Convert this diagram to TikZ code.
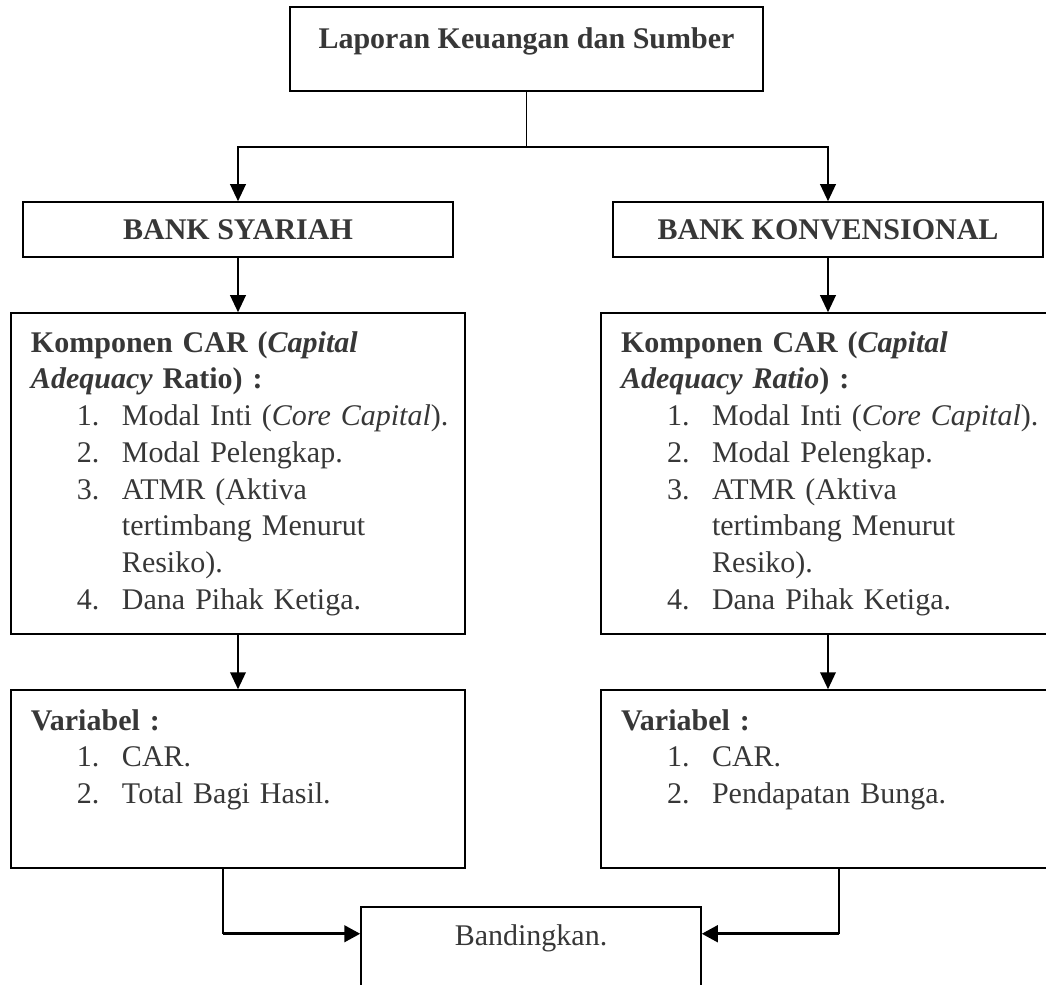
\documentclass[tikz,border=0pt]{standalone}
\usepackage{fontspec}
\setmainfont{Liberation Serif}
\usepackage{tikz}
\usetikzlibrary{arrows.meta,positioning,calc}
\definecolor{ink}{RGB}{55,55,55}
\newcommand{\bodyfont}{\fontsize{12}{14.7}\selectfont}
\newcommand{\numline}[2]{\mbox{\hspace*{18.4pt}\makebox[18pt][l]{#1}#2}}
\newcommand{\wrapline}[1]{\mbox{\hspace*{36.4pt}#1}}

\begin{document}
\begin{tikzpicture}[x=0.4pt,y=-0.4pt,
  every node/.style={font=\bodyfont,text=ink},
  box/.style={draw=black,line width=0.6pt},
  titlebox/.style={box,font=\bodyfont\bfseries,minimum width=172pt,minimum height=22pt},
  listbox/.style={box,align=left,text width=165.6pt,inner xsep=8pt,minimum width=181.6pt},
  link/.style={line width=0.6pt},
  arr/.style={line width=0.8pt,-{Triangle[length=6.8pt,width=6.2pt]}},
  arrthick/.style={line width=1.2pt,-{Triangle[length=6.4pt,width=6.6pt]}}]
  \useasboundingbox (0,0) rectangle (1046,985);
  \clip (0,0) rectangle (1046,985);

  \node[box,font=\bodyfont\bfseries,minimum width=189.2pt,minimum height=33.6pt,
    text height=8pt,text depth=8pt] (lapor) at (526.5,49) {Laporan Keuangan dan Sumber};
  \node[titlebox] (syariah) at (238,229.5) {BANK SYARIAH};
  \node[titlebox] (konven) at (828,229.5) {BANK KONVENSIONAL};

  % komponen CAR
  \node[listbox,minimum height=128.4pt] (kompS) at (238,473.5) {%
    \textbf{Komponen CAR (\textit{Capital}}\\
    \textbf{\textit{Adequacy} Ratio) :}\\
    \numline{1.}{Modal Inti (\textit{Core Capital}).}\\
    \numline{2.}{Modal Pelengkap.}\\
    \numline{3.}{ATMR (Aktiva}\\
    \wrapline{tertimbang Menurut}\\
    \wrapline{Resiko).}\\
    \numline{4.}{Dana Pihak Ketiga.}};
  \node[listbox,minimum height=128.4pt] (kompK) at (828,473.5) {%
    \textbf{Komponen CAR (\textit{Capital}}\\
    \textbf{\textit{Adequacy Ratio}) :}\\
    \numline{1.}{Modal Inti (\textit{Core Capital}).}\\
    \numline{2.}{Modal Pelengkap.}\\
    \numline{3.}{ATMR (Aktiva}\\
    \wrapline{tertimbang Menurut}\\
    \wrapline{Resiko).}\\
    \numline{4.}{Dana Pihak Ketiga.}};

  % variabel
  \node[listbox,minimum height=71.2pt] (varS) at (238,779) {%
    \textbf{Variabel :}\\
    \numline{1.}{CAR.}\\
    \numline{2.}{Total Bagi Hasil.}\\
    \rule[-3.4pt]{0pt}{3.4pt}};
  \node[listbox,minimum height=71.2pt] (varK) at (828,779) {%
    \textbf{Variabel :}\\
    \numline{1.}{CAR.}\\
    \numline{2.}{Pendapatan Bunga.}\\
    \rule[-3.4pt]{0pt}{3.4pt}};

  \node[box,anchor=north,minimum width=136pt,inner ysep=0pt,
    text height=15.6pt,text depth=24pt] (banding) at (531,906) {Bandingkan.};

  \coordinate (split) at (lapor.south |- 0,147);
  \draw[link] (lapor) -- (split);
  \draw[arr] (split) -| (syariah);
  \draw[arr] (split) -| (konven);
  \draw[arr] (syariah) -- (kompS);
  \draw[arr] (konven) -- (kompK);
  \draw[arr] (kompS) -- (varS);
  \draw[arr] (kompK) -- (varK);

  \coordinate (outS) at ([xshift=-6pt]varS.south);
  \coordinate (outK) at ([xshift=4.4pt]varK.south);
  \coordinate (inS) at ([yshift=4.8pt]banding.base west);
  \coordinate (inK) at ([yshift=4.8pt]banding.base east);
  \draw[arr,-] (outS) -- (outS |- inS);
  \draw[arrthick] (outS |- inS) -- (inS);
  \draw[arr,-] (outK) -- (outK |- inK);
  \draw[arrthick] (outK |- inK) -- (inK);
\end{tikzpicture}
\end{document}
